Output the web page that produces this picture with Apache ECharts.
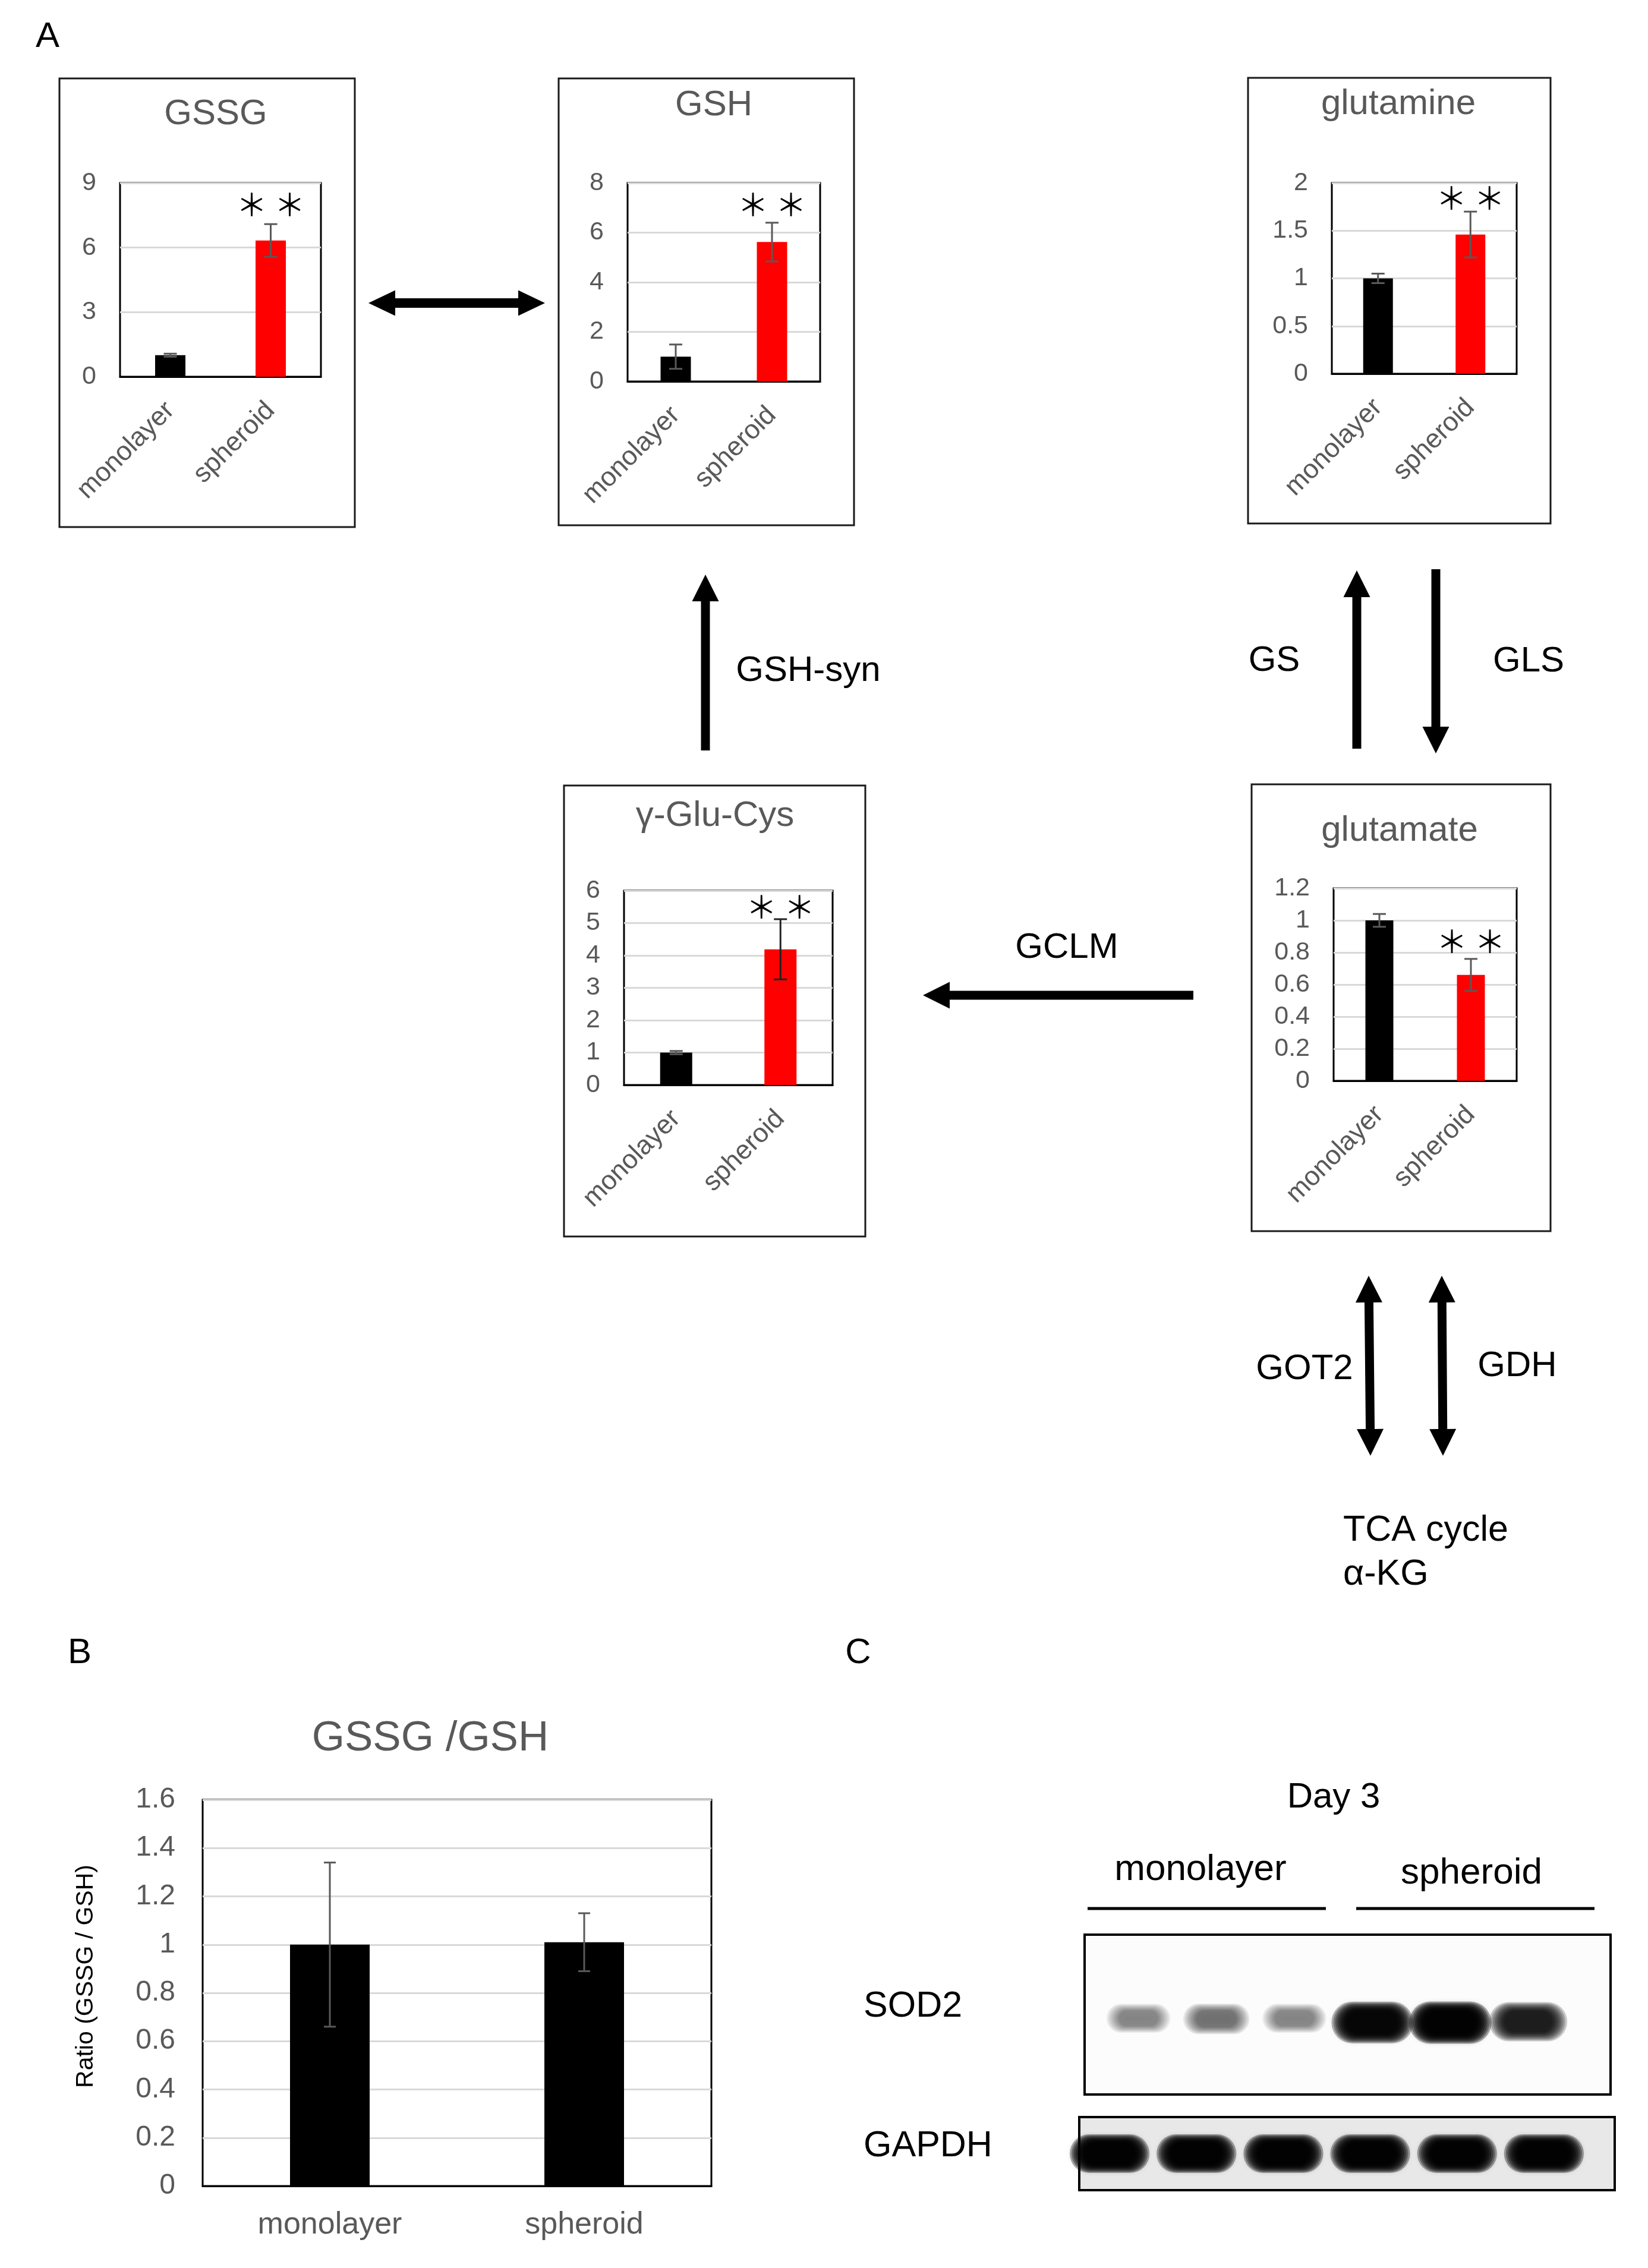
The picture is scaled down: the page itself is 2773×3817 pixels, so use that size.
<!DOCTYPE html>
<html>
<head>
<meta charset="utf-8">
<script src="https://cdn.jsdelivr.net/npm/echarts@6/dist/echarts.min.js"></script>
<style>
html,body{margin:0;padding:0;background:#fff;}
#c{width:2773px;height:3817px;}
</style>
</head>
<body>
<div id="c"></div>
<script>
// ---------------- DATA ----------------
const categories = ['monolayer', 'spheroid'];

const gssgMean = [1.0, 6.33];
const gssgSd = [0.07, 0.76];
const gssgSig = [null, 8.0];
const gssgTicks = [0, 3, 6, 9];

const gshMean = [1.0, 5.62];
const gshSd = [0.49, 0.78];
const gshSig = [null, 7.14];
const gshTicks = [0, 2, 4, 6, 8];

const glnMean = [1.0, 1.46];
const glnSd = [0.05, 0.24];
const glnSig = [null, 1.84];
const glnTicks = [0, 0.5, 1, 1.5, 2];

const gcMean = [1.0, 4.19];
const gcSd = [0.05, 0.93];
const gcSig = [null, 5.5];
const gcTicks = [0, 1, 2, 3, 4, 5, 6];

const gluMean = [1.0, 0.66];
const gluSd = [0.04, 0.10];
const gluSig = [null, 0.87];
const gluTicks = [0, 0.2, 0.4, 0.6, 0.8, 1.0, 1.2];

const ratioMean = [1.0, 1.01];
const ratioSd = [0.34, 0.12];
const ratioTicks = [0, 0.2, 0.4, 0.6, 0.8, 1.0, 1.2, 1.4, 1.6];

const lanes = ['mono-1', 'mono-2', 'mono-3', 'sph-1', 'sph-2', 'sph-3'];
const sod2Intensity = [0.45, 0.52, 0.45, 0.95, 1.0, 0.85];
const gapdhIntensity = [1.0, 1.0, 1.0, 1.0, 1.0, 1.0];

// ---------------- STYLE / LAYOUT ----------------
const FONT = "'Liberation Sans', Arial, Helvetica, sans-serif";
const GRAY = '#595959';
const RED = '#ff0000';

const panels = [
  {title: 'GSSG', mean: gssgMean, sd: gssgSd, sig: gssgSig, ticks: gssgTicks,
   grid: {left: 202, top: 308, width: 338, height: 326}, barWidth: 51,
   frame: [100, 132, 497, 755], titleXY: [363, 192], errColors: [GRAY, GRAY]},
  {title: 'GSH', mean: gshMean, sd: gshSd, sig: gshSig, ticks: gshTicks,
   grid: {left: 1056, top: 308, width: 324, height: 334}, barWidth: 51,
   frame: [940, 132, 497, 752], titleXY: [1201, 177], errColors: [GRAY, GRAY]},
  {title: 'glutamine', mean: glnMean, sd: glnSd, sig: glnSig, ticks: glnTicks,
   grid: {left: 2241, top: 308, width: 311, height: 321}, barWidth: 50,
   frame: [2100, 131, 509, 750], titleXY: [2353, 175], errColors: [GRAY, GRAY]},
  {title: 'γ-Glu-Cys', mean: gcMean, sd: gcSd, sig: gcSig, ticks: gcTicks,
   grid: {left: 1050, top: 1499, width: 351, height: 327}, barWidth: 54,
   frame: [949, 1322, 507, 759], titleXY: [1203, 1373], errColors: [GRAY, '#222']},
  {title: 'glutamate', mean: gluMean, sd: gluSd, sig: gluSig, ticks: gluTicks,
   grid: {left: 2244, top: 1495, width: 308, height: 324}, barWidth: 47,
   frame: [2106, 1320, 503, 752], titleXY: [2355, 1398], errColors: [GRAY, GRAY]}
];

const grids = [], xAxes = [], yAxes = [], series = [];

function errRender(colors, cap) {
  return function (params, api) {
    const i = api.value(0), m = api.value(1), s = api.value(2);
    const top = api.coord([i, m + s]);
    const bot = api.coord([i, m - s]);
    const st = {stroke: colors[params.dataIndex], lineWidth: 3};
    return {type: 'group', children: [
      {type: 'line', shape: {x1: top[0], y1: top[1], x2: bot[0], y2: bot[1]}, style: st},
      {type: 'line', shape: {x1: top[0] - cap, y1: top[1], x2: top[0] + cap, y2: top[1]}, style: st},
      {type: 'line', shape: {x1: bot[0] - cap, y1: bot[1], x2: bot[0] + cap, y2: bot[1]}, style: st}
    ]};
  };
}

function sigRender(params, api) {
  const c = api.coord([api.value(0), api.value(1)]);
  const mk = (x) => ({type: 'text', x: x, y: c[1], style: {
    text: '＊', fontSize: 52, fontFamily: "'Noto Sans CJK JP', 'DejaVu Sans', sans-serif",
    fill: '#000', align: 'center', verticalAlign: 'middle'}});
  return {type: 'group', children: [mk(c[0] - 32), mk(c[0] + 32)]};
}

panels.forEach((p, k) => {
  grids.push(Object.assign({show: true, borderColor: '#000', borderWidth: 3, backgroundColor: 'transparent'}, p.grid));
  xAxes.push({type: 'category', gridIndex: k, data: categories,
    axisLine: {show: true, lineStyle: {color: '#000', width: 3}},
    axisTick: {show: false},
    axisLabel: {rotate: 45, fontSize: 45, color: GRAY, fontFamily: FONT, margin: 50, interval: 0}});
  yAxes.push({type: 'value', gridIndex: k, min: p.ticks[0], max: p.ticks[p.ticks.length - 1],
    interval: p.ticks[1] - p.ticks[0],
    axisLine: {show: false}, axisTick: {show: false},
    axisLabel: {fontSize: 43, color: GRAY, fontFamily: FONT, margin: 40},
    splitLine: {show: true, lineStyle: {color: '#d9d9d9', width: 3}}});
  series.push({type: 'bar', xAxisIndex: k, yAxisIndex: k, barWidth: p.barWidth, z: 2,
    data: p.mean.map((v, i) => ({value: v, itemStyle: {color: i === 0 ? '#000' : RED}}))});
  series.push({type: 'custom', xAxisIndex: k, yAxisIndex: k, z: 3,
    renderItem: errRender(p.errColors, 11),
    data: p.mean.map((v, i) => [i, v, p.sd[i]])});
  series.push({type: 'custom', xAxisIndex: k, yAxisIndex: k, z: 4,
    renderItem: sigRender,
    data: p.sig.map((v, i) => v === null ? null : [i, v]).filter(d => d)});
});

// Panel B
const kB = panels.length;
grids.push({show: true, borderColor: '#000', borderWidth: 3, backgroundColor: 'transparent',
  left: 341, top: 3029, width: 856, height: 650});
xAxes.push({type: 'category', gridIndex: kB, data: categories,
  axisLine: {show: true, lineStyle: {color: '#000', width: 3}}, axisTick: {show: false},
  axisLabel: {fontSize: 52, color: GRAY, fontFamily: FONT, margin: 40}});
yAxes.push({type: 'value', gridIndex: kB, min: ratioTicks[0], max: ratioTicks[ratioTicks.length - 1],
  interval: 0.2, axisLine: {show: false}, axisTick: {show: false},
  axisLabel: {fontSize: 48, color: GRAY, fontFamily: FONT, margin: 46},
  splitLine: {show: true, lineStyle: {color: '#d9d9d9', width: 3}}});
series.push({type: 'bar', xAxisIndex: kB, yAxisIndex: kB, barWidth: 134, z: 2,
  data: ratioMean.map(v => ({value: v, itemStyle: {color: '#000'}}))});
series.push({type: 'custom', xAxisIndex: kB, yAxisIndex: kB, z: 3,
  renderItem: errRender([GRAY, GRAY], 10),
  data: ratioMean.map((v, i) => [i, v, ratioSd[i]])});

// Panel C blots: soft bands built from stacked translucent layers
function bandRender(wBase, wK, hBase, hK, dyK) {
  return function (params, api) {
    const a = Math.min(0.97, api.value(1));
    const c = api.coord([api.value(0), 0.5]);
    const w = wBase + wK * a, h = hBase + hK * a;
    const cy = c[1] + dyK * a;
    const N = 9;
    const la = 1 - Math.pow(1 - a, 1 / N);
    const children = [];
    for (let j = 0; j < N; j++) {
      const t = j / (N - 1);
      const ww = w * (1.3 - 0.5 * t), hh = h * (1.45 - 0.65 * t);
      children.push({type: 'rect',
        shape: {x: c[0] - ww / 2, y: cy - hh / 2, width: ww, height: hh, r: hh / 2},
        style: {fill: 'rgba(0,0,0,' + la.toFixed(3) + ')', shadowBlur: 8, shadowColor: 'rgba(0,0,0,' + (la * 0.6).toFixed(3) + ')'}});
    }
    return {type: 'group', children: children};
  };
}
const kS = kB + 1, kG = kB + 2;
grids.push({left: 1850, top: 3256, width: 787, height: 269});
grids.push({left: 1794, top: 3563, width: 877, height: 123});
[kS, kG].forEach(k => {
  xAxes.push({type: 'category', gridIndex: k, data: lanes, show: false});
  yAxes.push({type: 'value', gridIndex: k, min: 0, max: 1, show: false});
});
series.push({type: 'custom', xAxisIndex: kS, yAxisIndex: kS, z: 5,
  renderItem: bandRender(62, 46, 20, 30, 14), data: sod2Intensity.map((v, i) => [i, v])});
series.push({type: 'custom', xAxisIndex: kG, yAxisIndex: kG, z: 5,
  renderItem: bandRender(16, 90, 10, 36, 0), data: gapdhIntensity.map((v, i) => [i, v])});

// ---------------- GRAPHICS (frames, arrows, labels) ----------------
const graphics = [];
function txt(text, x, y, size, opts, extra) {
  graphics.push(Object.assign({type: 'text', x: x, y: y, z: 10, style: Object.assign({text: text, fontSize: size,
    fontFamily: FONT, fill: '#000', align: 'center', verticalAlign: 'middle'}, opts || {})}, extra || {}));
}
function frame(x, y, w, h, opts) {
  graphics.push({type: 'rect', z: 1, shape: {x: x, y: y, width: w, height: h},
    style: Object.assign({fill: 'none', stroke: '#1a1a1a', lineWidth: 3}, opts || {})});
}
function arrow(x1, y1, x2, y2, dbl, shaftW, headW, headL) {
  shaftW = shaftW || 15; headW = headW || 45; headL = headL || 45;
  const dx = x2 - x1, dy = y2 - y1, L = Math.hypot(dx, dy);
  const ux = dx / L, uy = dy / L, nx = -uy, ny = ux;
  const P = (t, o) => [x1 + ux * t + nx * o, y1 + uy * t + ny * o];
  const s = shaftW / 2, h = headW / 2;
  let pts;
  if (dbl) {
    pts = [P(0, 0), P(headL, h), P(headL, s), P(L - headL, s), P(L - headL, h), P(L, 0),
           P(L - headL, -h), P(L - headL, -s), P(headL, -s), P(headL, -h)];
  } else {
    pts = [P(0, s), P(L - headL, s), P(L - headL, h), P(L, 0), P(L - headL, -h), P(L - headL, -s), P(0, -s)];
  }
  graphics.push({type: 'polygon', z: 10, shape: {points: pts}, style: {fill: '#000'}});
}

panels.forEach(p => {
  frame(p.frame[0], p.frame[1], p.frame[2], p.frame[3]);
  txt(p.title, p.titleXY[0], p.titleXY[1], 60, {fill: GRAY});
});

// panel letters
txt('A', 80, 62, 60);
txt('B', 134, 2782, 60);
txt('C', 1444, 2782, 60);

// pathway arrows
arrow(620, 510, 917, 510, true, 16, 43, 45);
arrow(1187, 1263, 1187, 967, false);
txt('GSH-syn', 1360, 1129, 60);
arrow(2283, 1260, 2283, 960, false);
arrow(2416, 958, 2416, 1268, false);
txt('GS', 2144, 1112, 60);
txt('GLS', 2572, 1113, 60);
arrow(2008, 1675, 1553, 1675, false);
txt('GCLM', 1795, 1595, 60);
arrow(2303, 2147, 2306, 2450, true);
arrow(2426, 2147, 2428, 2450, true);
txt('GOT2', 2195, 2304, 60);
txt('GDH', 2553, 2299, 60);
txt('TCA cycle', 2260, 2576, 61, {align: 'left'});
txt('α-KG', 2260, 2650, 61, {align: 'left'});

// panel B title and y-axis name
txt('GSSG /GSH', 724, 2926, 71, {fill: GRAY});
txt('Ratio (GSSG / GSH)', 145, 3326, 41, {}, {rotation: Math.PI / 2});

// panel C
txt('Day 3', 2244, 3025, 60);
txt('monolayer', 2020, 3147, 62);
txt('spheroid', 2476, 3153, 62);
graphics.push({type: 'line', z: 10, shape: {x1: 1830, y1: 3212, x2: 2231, y2: 3212}, style: {stroke: '#000', lineWidth: 5}});
graphics.push({type: 'line', z: 10, shape: {x1: 2282, y1: 3212, x2: 2683, y2: 3212}, style: {stroke: '#000', lineWidth: 5}});
graphics.push({type: 'rect', z: 0, shape: {x: 1825, y: 3256, width: 885, height: 269}, style: {fill: '#fcfcfc', stroke: 'none'}});
graphics.push({type: 'rect', z: 0, shape: {x: 1816, y: 3563, width: 901, height: 123}, style: {fill: '#e8e8e8', stroke: 'none'}});
frame(1825, 3256, 885, 269, {stroke: '#000', lineWidth: 4});
frame(1816, 3563, 901, 123, {stroke: '#000', lineWidth: 4});
txt('SOD2', 1453, 3377, 61, {align: 'left'});
txt('GAPDH', 1453, 3612, 61, {align: 'left'});

const chart = echarts.init(document.getElementById('c'), null, {renderer: 'canvas'});
chart.setOption({
  animation: false,
  backgroundColor: '#ffffff',
  grid: grids,
  xAxis: xAxes,
  yAxis: yAxes,
  series: series,
  graphic: {elements: graphics}
});
</script>
</body>
</html>
